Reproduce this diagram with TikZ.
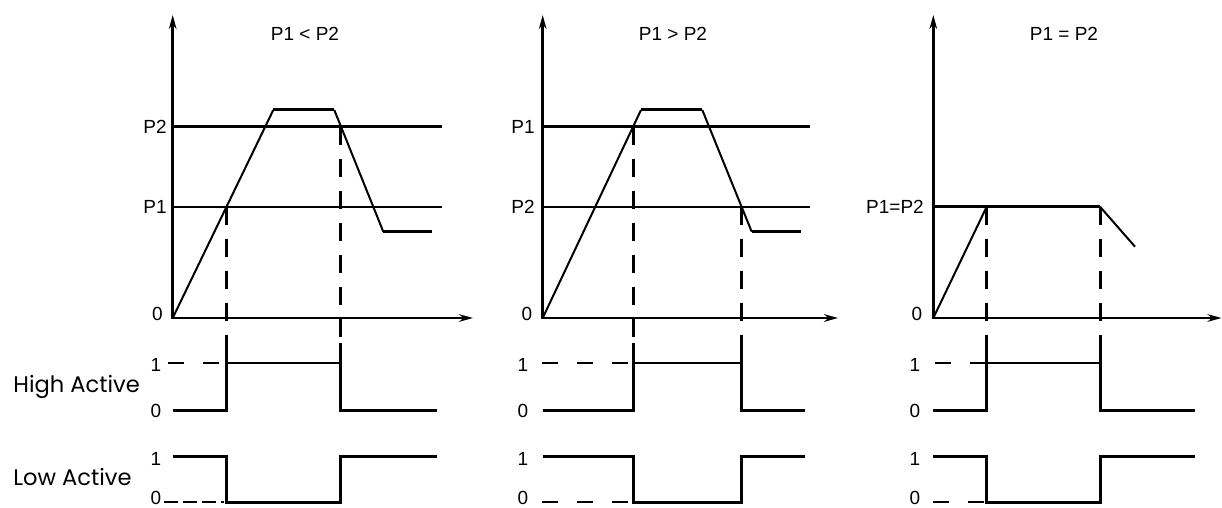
\documentclass[tikz,border=0pt]{standalone}
\usepackage{fontspec}
\setmainfont{Liberation Sans}
\newfontfamily\gothic{Poppins}
\usetikzlibrary{arrows.meta}
\begin{document}
\begin{tikzpicture}[x=0.5pt,y=-0.5pt,
  axis/.style={line width=1.4pt,{Stealth[length=7pt,width=3.8pt]}-{Stealth[length=7pt,width=3.8pt]}},
  thk/.style={line width=1.5pt},
  thn/.style={line width=1pt},
  vdash/.style={line width=1.5pt,dash pattern=on 9pt off 7pt},
  hdash/.style={line width=1pt,dash pattern=on 8pt off 9.5pt},
  tdash/.style={line width=1pt,dash pattern=on 7pt off 2.5pt},
  lbl/.style={font=\fontsize{9.5pt}{11pt}\selectfont, inner sep=0pt},
  side/.style={font=\gothic\fontsize{11.3pt}{13pt}\selectfont, inner sep=0pt, anchor=base west}]
\useasboundingbox (0,0) rectangle (1222,508);

% ---------------- Panel 1 : P1 < P2 ----------------
\coordinate (a1top) at (172.7,15);
\coordinate (a1end) at (473,318);
\draw[axis] (a1top) |- (a1end);
\draw[thk] (172.7,126.7) -- (441.7,126.7);
\draw[thn] (172.7,206.7) -- (441.7,206.7);
\draw[thn] (172.7,318) -- (273.3,110);
\draw[thk] (273.3,110) -- (334.3,110);
\draw[thn] (334.3,110) -- (383.3,231.7);
\draw[thk] (383.3,231.7) -- (432.3,231.7);
\draw[vdash] (226.7,206.7) -- (226.7,347);
\draw[vdash] (340,126.7) -- (340,343);
\draw[thk] (172.7,410) -| (226.7,347);
\draw[thn] (226.7,363.3) -- (340,363.3);
\draw[thk] (340,343) |- (436.7,410);
\draw[hdash] (168,363.3) -- (226.7,363.3);
\draw[thk] (172.7,456) -| (226.7,502.3) -| (340,456) -- (436.7,456);
\draw[tdash] (164,502.3) -- (224,502.3);
\node[lbl] (t1) at (305,34) {P1 < P2};
\node[lbl] (p2a) at (155,126.7) {P2};
\node[lbl] (p1a) at (155,206.7) {P1};
\node[lbl] (z1) at (157.5,313.5) {0};
\node[lbl] (h1a) at (156,365) {1};
\node[lbl] (h0a) at (156,411) {0};
\node[lbl] (l1a) at (156,459) {1};
\node[lbl] (l0a) at (156,497.5) {0};
\node[side] (ha) at (13,392) {High Active};
\node[side] (la) at (13,485) {Low Active};

% ---------------- Panel 2 : P1 > P2 ----------------
\coordinate (a2top) at (542.7,15);
\coordinate (a2end) at (838,318);
\draw[axis] (a2top) |- (a2end);
\draw[thk] (542.7,126.7) -- (810,126.7);
\draw[thn] (542.7,206.7) -- (810,206.7);
\draw[thn] (542.7,318) -- (641,110);
\draw[thk] (641,110) -- (702.3,110);
\draw[thn] (702.3,110) -- (751.7,231.7);
\draw[thk] (751.7,231.7) -- (800.7,231.7);
\draw[vdash] (633.3,126.7) -- (633.3,343);
\draw[vdash] (741.7,206.7) -- (741.7,351.7);
\draw[thk] (542.7,410) -| (633.3,343);
\draw[thn] (633.3,363.3) -- (741.7,363.3);
\draw[thk] (741.7,351.7) |- (805,410);
\draw[hdash] (542,363.3) -- (633.3,363.3);
\draw[thk] (542.7,456) -| (633.3,502.3) -| (741.7,456) -- (805,456);
\draw[hdash] (542,502.3) -- (633.3,502.3);
\node[lbl] (t2) at (673,34) {P1 > P2};
\node[lbl] (p1b) at (523,126.7) {P1};
\node[lbl] (p2b) at (523,206.7) {P2};
\node[lbl] (z2) at (527,313.5) {0};
\node[lbl] (h1b) at (523,365) {1};
\node[lbl] (h0b) at (523,411) {0};
\node[lbl] (l1b) at (523,459) {1};
\node[lbl] (l0b) at (523,497.5) {0};

% ---------------- Panel 3 : P1 = P2 ----------------
\coordinate (a3top) at (933.3,15);
\coordinate (a3end) at (1221.5,318);
\draw[axis] (a3top) |- (a3end);
\draw[thk] (933.3,206.7) -- (1100,206.7);
\draw[thn] (933.3,318) -- (986.7,206.7);
\draw[thn] (1100,206.7) -- (1135,246.7);
\draw[vdash] (986.7,206.7) -- (986.7,351.7);
\draw[vdash] (1100,206.7) -- (1100,351.7);
\draw[thk] (933.3,410) -| (986.7,351.7);
\draw[thn] (986.7,363.3) -- (1100,363.3);
\draw[thk] (1100,351.7) |- (1195,410);
\draw[hdash] (935,363.3) -- (986.7,363.3);
\draw[thk] (933.3,456) -| (986.7,502.3) -| (1100,456) -- (1195,456);
\draw[hdash] (933,502.3) -- (986.7,502.3);
\node[lbl] (t3) at (1064,34) {P1 = P2};
\node[lbl] (pp) at (895,206.7) {P1=P2};
\node[lbl] (z3) at (917,313.5) {0};
\node[lbl] (h1c) at (915,365) {1};
\node[lbl] (h0c) at (915,411) {0};
\node[lbl] (l1c) at (915,459) {1};
\node[lbl] (l0c) at (915,497.5) {0};
\end{tikzpicture}
\end{document}
